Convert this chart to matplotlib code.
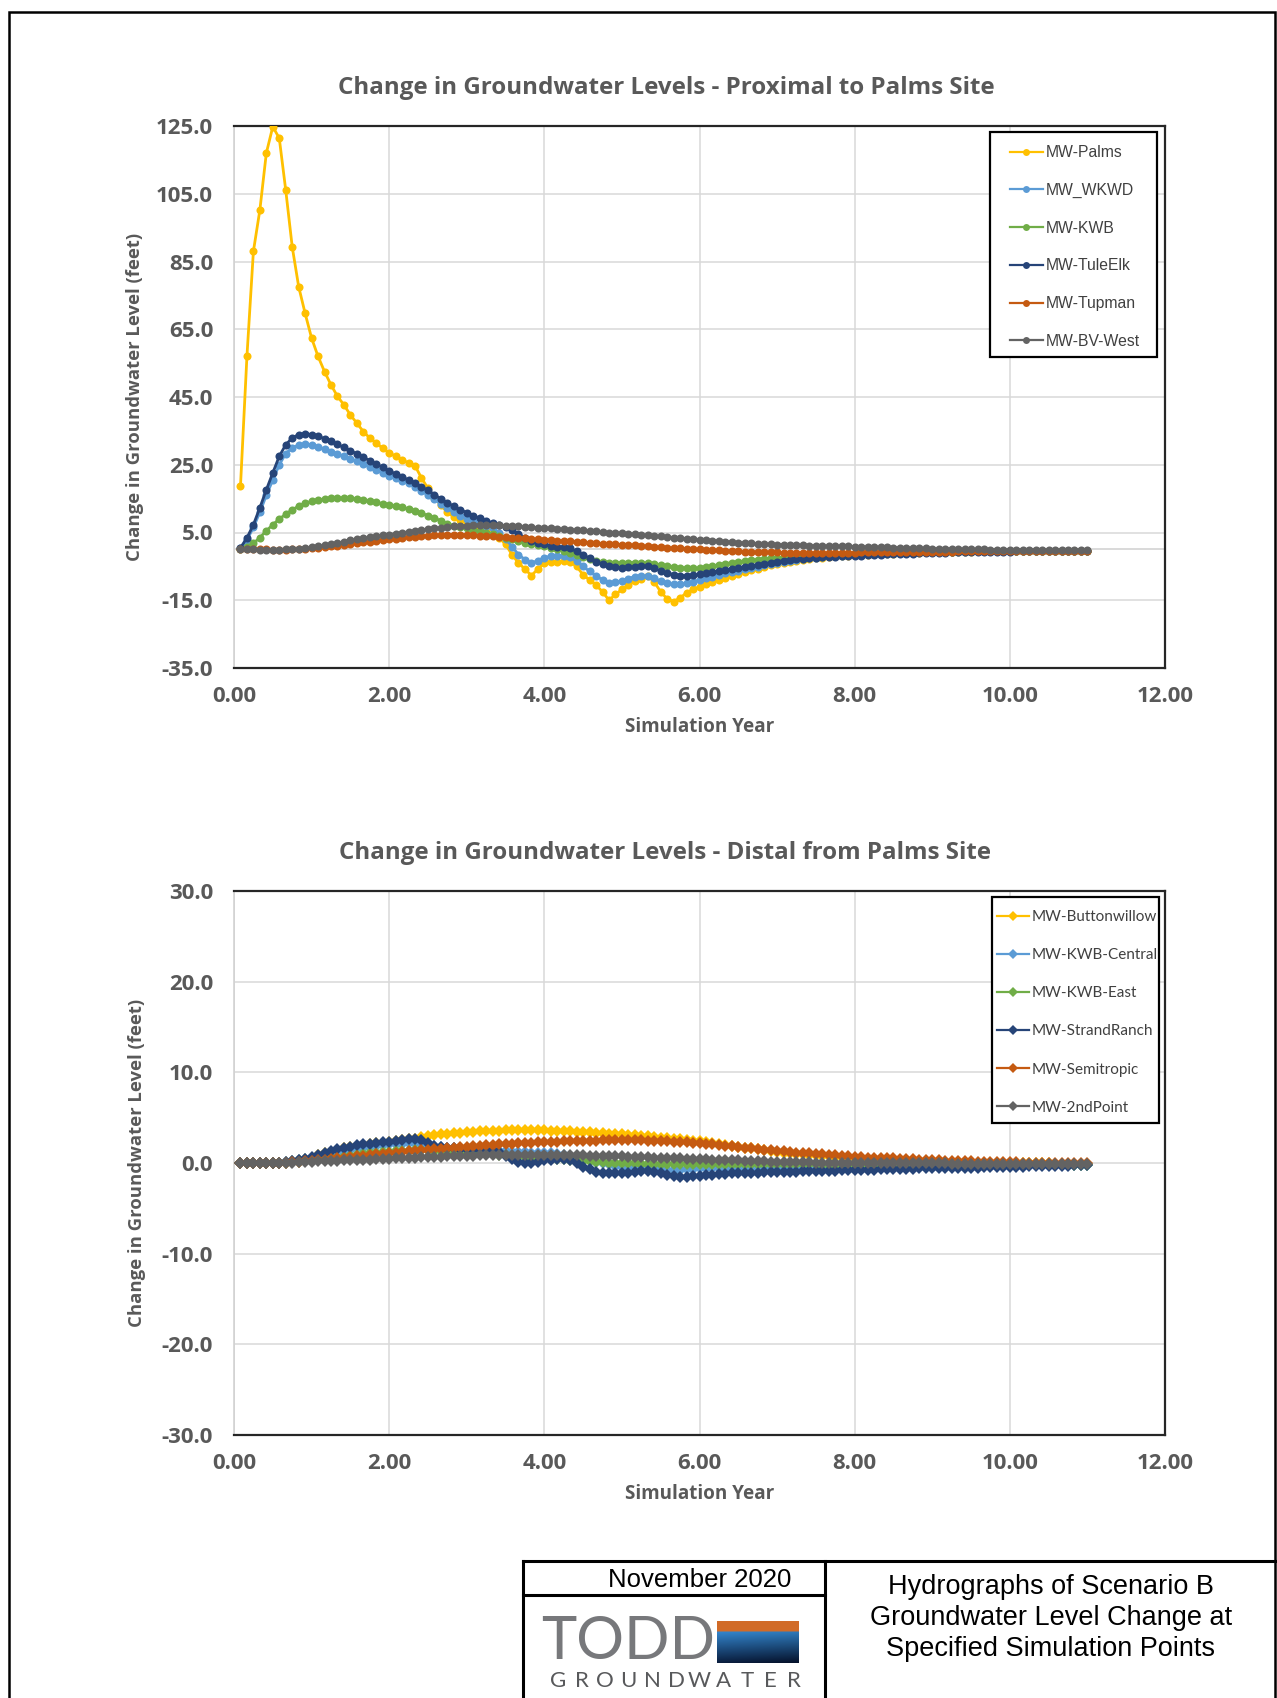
import numpy as np
import matplotlib.pyplot as plt
from matplotlib.patches import Rectangle
from matplotlib.lines import Line2D
from matplotlib.ticker import FormatStrFormatter

plt.rcParams['font.family'] = ['Open Sans', 'DejaVu Sans']

# --- Daten: monatliche Werte, Simulationsjahr 1/12 ... 11 ---
months = np.arange(1, 133)
years = months / 12

# Proximal to Palms Site
palms = [18.6, 57.0, 88.0, 100.2, 117.0, 124.8, 121.4, 106.1, 89.4, 77.6, 69.7, 62.4,
         57.0, 52.5, 48.6, 45.2, 42.7, 39.7, 37.3, 34.8, 32.9, 31.4, 29.9, 28.5,
         27.5, 26.5, 25.5, 24.7, 21.1, 18.0, 15.3, 13.0, 11.0, 9.6, 8.6, 7.8,
         7.0, 6.3, 5.6, 4.6, 3.5, 1.5, -1.5, -4.0, -5.8, -7.7, -5.8, -4.0,
         -3.8, -3.6, -3.5, -3.7, -5.0, -7.5, -9.0, -10.5, -12.5, -15.0, -13.3, -11.8,
         -10.5, -9.4, -8.6, -7.9, -9.6, -12.5, -14.6, -15.4, -14.3, -12.8, -11.8, -11.0,
         -10.2, -9.6, -9.0, -8.4, -7.9, -7.3, -6.8, -6.2, -5.7, -5.2, -4.7, -4.3,
         -3.9, -3.6, -3.3, -3.0, -2.8, -2.6, -2.4, -2.2, -2.0, -1.9, -1.8, -1.7,
         -1.6, -1.5, -1.4, -1.3, -1.25, -1.2, -1.1, -1.05, -1.0, -0.95, -0.9, -0.85,
         -0.8, -0.8, -0.75, -0.7, -0.7, -0.65, -0.6, -0.6, -0.55, -0.55, -0.5, -0.5,
         -0.5, -0.45, -0.45, -0.45, -0.4, -0.4, -0.4, -0.4, -0.35, -0.35, -0.35, -0.35]
wkwd = [0.3, 2.8, 6.5, 11.0, 16.0, 20.5, 25.0, 28.3, 30.0, 30.8, 31.0, 30.8,
        30.3, 29.6, 28.9, 28.2, 27.5, 26.8, 26.0, 25.2, 24.3, 23.4, 22.6, 21.7,
        21.0, 20.3, 19.5, 18.5, 17.3, 16.0, 14.8, 13.5, 12.2, 11.0, 10.0, 9.0,
        8.3, 7.6, 7.0, 6.2, 5.0, 3.2, 0.8, -1.5, -3.0, -4.0, -3.3, -2.4,
        -2.0, -1.8, -1.9, -2.3, -3.4, -5.0, -6.5, -7.8, -9.0, -9.8, -9.7, -9.3,
        -8.6, -8.0, -7.8, -7.9, -8.5, -9.4, -10.0, -10.3, -10.3, -10.0, -9.5, -9.0,
        -8.5, -8.0, -7.5, -7.1, -6.7, -6.3, -5.9, -5.5, -5.1, -4.7, -4.3, -4.0,
        -3.7, -3.4, -3.1, -2.9, -2.6, -2.4, -2.2, -2.0, -1.9, -1.8, -1.7, -1.6,
        -1.5, -1.4, -1.3, -1.25, -1.2, -1.1, -1.05, -1.0, -0.95, -0.9, -0.85, -0.8,
        -0.8, -0.75, -0.7, -0.7, -0.65, -0.6, -0.6, -0.55, -0.55, -0.5, -0.5, -0.5,
        -0.45, -0.45, -0.45, -0.4, -0.4, -0.4, -0.4, -0.35, -0.35, -0.35, -0.35, -0.35]
kwb = [0.1, 0.6, 1.8, 3.5, 5.5, 7.3, 9.0, 10.4, 11.7, 12.8, 13.6, 14.2,
       14.6, 14.9, 15.1, 15.2, 15.2, 15.1, 14.9, 14.6, 14.3, 13.9, 13.5, 13.1,
       12.8, 12.4, 12.0, 11.4, 10.7, 10.0, 9.2, 8.5, 7.6, 7.0, 6.6, 6.2,
       5.8, 5.4, 5.0, 4.5, 4.0, 3.5, 3.0, 2.5, 2.0, 1.5, 1.2, 0.9,
       0.5, 0.0, -0.5, -1.0, -1.5, -2.2, -2.9, -3.4, -3.8, -3.9, -3.9, -3.9,
       -3.9, -3.9, -4.0, -4.1, -4.3, -4.5, -4.8, -5.1, -5.4, -5.5, -5.6, -5.6,
       -5.3, -4.9, -4.5, -4.2, -3.9, -3.6, -3.4, -3.2, -3.0, -2.8, -2.6, -2.5,
       -2.3, -2.2, -2.0, -1.9, -1.8, -1.7, -1.6, -1.5, -1.45, -1.4, -1.35, -1.3,
       -1.2, -1.15, -1.1, -1.05, -1.0, -0.95, -0.9, -0.85, -0.8, -0.8, -0.75, -0.7,
       -0.7, -0.65, -0.65, -0.6, -0.6, -0.55, -0.55, -0.5, -0.5, -0.5, -0.45, -0.45,
       -0.45, -0.4, -0.4, -0.4, -0.4, -0.4, -0.35, -0.35, -0.35, -0.35, -0.35, -0.35]
tule_elk = [0.5, 3.4, 7.3, 12.3, 17.6, 22.6, 27.5, 30.9, 32.9, 33.9, 34.2, 33.9,
            33.4, 32.7, 31.9, 31.0, 30.1, 29.2, 28.2, 27.2, 26.2, 25.2, 24.2, 23.2,
            22.3, 21.4, 20.5, 19.6, 18.5, 17.4, 16.2, 14.9, 13.8, 12.7, 11.7, 10.9,
            10.0, 9.2, 8.5, 7.8, 7.1, 6.5, 5.6, 4.6, 3.5, 2.5, 1.9, 1.5,
            1.1, 0.8, 0.6, 0.3, -0.6, -1.6, -2.6, -3.6, -4.4, -5.0, -5.3, -5.4,
            -5.3, -5.1, -4.9, -5.0, -5.6, -6.3, -7.0, -7.4, -7.7, -7.8, -7.6, -7.3,
            -7.0, -6.7, -6.3, -6.0, -5.7, -5.4, -5.1, -4.8, -4.5, -4.2, -3.9, -3.6,
            -3.3, -3.1, -2.9, -2.7, -2.5, -2.4, -2.3, -2.2, -2.1, -2.0, -1.95, -1.9,
            -1.8, -1.7, -1.6, -1.5, -1.45, -1.4, -1.3, -1.25, -1.2, -1.15, -1.1, -1.05,
            -1.0, -0.95, -0.9, -0.85, -0.8, -0.8, -0.75, -0.75, -0.7, -0.7, -0.65, -0.65,
            -0.6, -0.6, -0.55, -0.55, -0.5, -0.5, -0.45, -0.45, -0.4, -0.4, -0.4, -0.4]
tupman = [0.0, 0.0, 0.0, 0.0, 0.0, -0.1, -0.1, -0.1, 0.0, 0.1, 0.2, 0.3,
          0.5, 0.7, 0.9, 1.1, 1.3, 1.6, 1.8, 2.1, 2.3, 2.6, 2.8, 3.0,
          3.2, 3.4, 3.6, 3.8, 4.0, 4.1, 4.2, 4.3, 4.4, 4.4, 4.4, 4.3,
          4.2, 4.1, 4.0, 3.9, 3.8, 3.7, 3.5, 3.4, 3.3, 3.1, 3.0, 2.9,
          2.8, 2.6, 2.5, 2.4, 2.3, 2.1, 2.0, 1.8, 1.7, 1.6, 1.5, 1.4,
          1.3, 1.2, 1.0, 0.9, 0.8, 0.6, 0.5, 0.4, 0.3, 0.2, 0.1, 0.0,
          -0.1, -0.2, -0.3, -0.4, -0.5, -0.6, -0.7, -0.75, -0.8, -0.85, -0.9, -0.9,
          -0.95, -0.95, -1.0, -1.0, -1.0, -1.0, -1.0, -1.0, -1.0, -1.0, -0.95, -0.95,
          -0.9, -0.9, -0.9, -0.85, -0.85, -0.8, -0.8, -0.8, -0.75, -0.75, -0.7, -0.7,
          -0.7, -0.65, -0.65, -0.6, -0.6, -0.6, -0.55, -0.55, -0.55, -0.5, -0.5, -0.5,
          -0.5, -0.45, -0.45, -0.45, -0.45, -0.4, -0.4, -0.4, -0.4, -0.4, -0.35, -0.35]
bv_west = [0.0, 0.0, 0.0, -0.1, -0.1, -0.1, -0.1, 0.0, 0.1, 0.2, 0.4, 0.6,
           0.9, 1.2, 1.5, 1.9, 2.3, 2.7, 3.0, 3.3, 3.6, 3.9, 4.2, 4.4,
           4.7, 4.9, 5.2, 5.5, 5.7, 6.0, 6.2, 6.4, 6.6, 6.8, 6.9, 7.0,
           7.1, 7.2, 7.2, 7.2, 7.1, 7.0, 6.9, 6.8, 6.6, 6.5, 6.4, 6.3,
           6.2, 6.1, 5.9, 5.8, 5.7, 5.6, 5.4, 5.3, 5.1, 5.0, 4.9, 4.8,
           4.6, 4.5, 4.3, 4.2, 4.0, 3.9, 3.7, 3.5, 3.4, 3.2, 3.1, 2.9,
           2.8, 2.6, 2.5, 2.3, 2.2, 2.0, 1.9, 1.8, 1.7, 1.6, 1.5, 1.4,
           1.35, 1.3, 1.25, 1.2, 1.1, 1.05, 1.0, 1.0, 0.95, 0.9, 0.9, 0.85,
           0.8, 0.75, 0.7, 0.65, 0.6, 0.55, 0.5, 0.45, 0.4, 0.35, 0.3, 0.25,
           0.2, 0.2, 0.15, 0.1, 0.1, 0.05, 0.0, 0.0, -0.05, -0.05, -0.1, -0.1,
           -0.15, -0.15, -0.2, -0.2, -0.2, -0.25, -0.25, -0.25, -0.3, -0.3, -0.3, -0.3]

# Distal from Palms Site
buttonwillow = [0.0, 0.0, 0.0, 0.0, 0.0, 0.0, 0.05, 0.1, 0.2, 0.3, 0.45, 0.6,
                0.85, 1.05, 1.25, 1.45, 1.6, 1.75, 1.9, 2.0, 2.1, 2.2, 2.25, 2.3,
                2.4, 2.5, 2.6, 2.7, 2.85, 3.0, 3.1, 3.15, 3.2, 3.3, 3.35, 3.4,
                3.45, 3.5, 3.5, 3.55, 3.55, 3.6, 3.6, 3.6, 3.6, 3.6, 3.6, 3.6,
                3.55, 3.55, 3.5, 3.5, 3.45, 3.45, 3.4, 3.35, 3.3, 3.25, 3.2, 3.15,
                3.1, 3.05, 3.0, 2.95, 2.9, 2.8, 2.75, 2.7, 2.6, 2.5, 2.45, 2.4,
                2.3, 2.2, 2.1, 2.0, 1.9, 1.8, 1.7, 1.6, 1.5, 1.4, 1.3, 1.2,
                1.1, 1.05, 1.0, 0.95, 0.9, 0.85, 0.8, 0.75, 0.7, 0.65, 0.6, 0.55,
                0.5, 0.45, 0.45, 0.4, 0.35, 0.35, 0.3, 0.3, 0.25, 0.25, 0.2, 0.2,
                0.15, 0.15, 0.1, 0.1, 0.1, 0.05, 0.05, 0.05, 0.0, 0.0, 0.0, 0.0,
                0.0, -0.05, -0.05, -0.05, -0.05, -0.05, -0.1, -0.1, -0.1, -0.1, -0.1, -0.1]
kwb_central = [0.0, 0.0, 0.0, 0.0, 0.0, 0.0, 0.05, 0.1, 0.2, 0.3, 0.4, 0.55,
               0.7, 0.85, 1.0, 1.15, 1.3, 1.45, 1.6, 1.7, 1.8, 1.9, 2.0, 2.05,
               2.1, 2.15, 2.2, 2.2, 2.1, 2.0, 1.9, 1.8, 1.7, 1.65, 1.6, 1.55,
               1.5, 1.5, 1.45, 1.4, 1.35, 1.3, 1.25, 1.2, 1.2, 1.15, 1.1, 1.1,
               1.05, 1.0, 0.9, 0.75, 0.6, 0.45, 0.3, 0.15, 0.0, -0.15, -0.3, -0.4,
               -0.4, -0.4, -0.45, -0.5, -0.6, -0.75, -0.8, -0.8, -0.75, -0.7, -0.65, -0.6,
               -0.6, -0.55, -0.55, -0.55, -0.5, -0.5, -0.5, -0.5, -0.45, -0.45, -0.45, -0.45,
               -0.45, -0.45, -0.4, -0.4, -0.4, -0.4, -0.4, -0.4, -0.4, -0.35, -0.35, -0.35,
               -0.35, -0.35, -0.35, -0.35, -0.3, -0.3, -0.3, -0.3, -0.3, -0.3, -0.3, -0.3,
               -0.3, -0.3, -0.3, -0.25, -0.25, -0.25, -0.25, -0.25, -0.25, -0.25, -0.2, -0.2,
               -0.2, -0.2, -0.2, -0.2, -0.2, -0.2, -0.2, -0.2, -0.2, -0.2, -0.2, -0.2]
kwb_east = [0.0, 0.0, 0.0, 0.0, 0.0, 0.0, 0.0, 0.05, 0.1, 0.15, 0.2, 0.3,
            0.35, 0.45, 0.5, 0.6, 0.7, 0.8, 0.9, 1.0, 1.05, 1.1, 1.2, 1.25,
            1.3, 1.35, 1.35, 1.4, 1.4, 1.4, 1.35, 1.3, 1.3, 1.25, 1.2, 1.15,
            1.1, 1.05, 1.0, 0.95, 0.9, 0.85, 0.8, 0.75, 0.7, 0.65, 0.6, 0.55,
            0.5, 0.45, 0.4, 0.35, 0.3, 0.25, 0.2, 0.15, 0.1, 0.05, 0.0, 0.0,
            -0.05, -0.05, -0.1, -0.1, -0.1, -0.15, -0.15, -0.15, -0.15, -0.15, -0.15, -0.15,
            -0.15, -0.15, -0.15, -0.15, -0.15, -0.15, -0.15, -0.15, -0.15, -0.15, -0.15, -0.15,
            -0.15, -0.15, -0.15, -0.15, -0.15, -0.15, -0.2, -0.2, -0.2, -0.2, -0.2, -0.2,
            -0.2, -0.2, -0.2, -0.2, -0.2, -0.2, -0.2, -0.2, -0.2, -0.2, -0.2, -0.2,
            -0.2, -0.2, -0.2, -0.2, -0.2, -0.2, -0.2, -0.2, -0.2, -0.2, -0.2, -0.2,
            -0.2, -0.2, -0.2, -0.2, -0.2, -0.2, -0.2, -0.2, -0.2, -0.2, -0.2, -0.2]
strand_ranch = [0.0, 0.0, 0.0, 0.0, 0.0, 0.0, 0.05, 0.1, 0.2, 0.3, 0.45, 0.65,
                0.9, 1.1, 1.3, 1.5, 1.65, 1.8, 1.95, 2.05, 2.15, 2.25, 2.3, 2.35,
                2.45, 2.55, 2.65, 2.7, 2.5, 2.2, 1.9, 1.75, 1.65, 1.6, 1.55, 1.5,
                1.5, 1.45, 1.4, 1.4, 1.2, 0.8, 0.4, 0.15, 0.0, -0.05, 0.1, 0.3,
                0.35, 0.4, 0.4, 0.35, 0.0, -0.4, -0.7, -1.0, -1.05, -1.1, -1.1, -1.1,
                -1.05, -1.0, -0.9, -0.85, -0.95, -1.1, -1.3, -1.45, -1.5, -1.5, -1.45, -1.4,
                -1.35, -1.3, -1.25, -1.2, -1.15, -1.1, -1.1, -1.05, -1.05, -1.0, -1.0, -1.0,
                -0.95, -0.95, -0.95, -0.9, -0.9, -0.9, -0.85, -0.85, -0.85, -0.8, -0.8, -0.8,
                -0.75, -0.75, -0.75, -0.7, -0.7, -0.7, -0.65, -0.65, -0.65, -0.6, -0.6, -0.6,
                -0.6, -0.55, -0.55, -0.55, -0.5, -0.5, -0.5, -0.45, -0.45, -0.45, -0.4, -0.4,
                -0.4, -0.4, -0.35, -0.35, -0.35, -0.3, -0.3, -0.3, -0.3, -0.25, -0.25, -0.25]
semitropic = [0.0, 0.0, 0.0, 0.0, 0.0, 0.0, 0.02, 0.05, 0.1, 0.15, 0.2, 0.25,
              0.3, 0.35, 0.45, 0.5, 0.6, 0.65, 0.75, 0.8, 0.9, 0.95, 1.0, 1.1,
              1.15, 1.2, 1.3, 1.35, 1.4, 1.45, 1.5, 1.55, 1.6, 1.7, 1.75, 1.8,
              1.85, 1.9, 1.95, 2.0, 2.05, 2.1, 2.15, 2.2, 2.2, 2.25, 2.3, 2.3,
              2.35, 2.35, 2.4, 2.4, 2.4, 2.45, 2.45, 2.45, 2.5, 2.5, 2.5, 2.5,
              2.5, 2.5, 2.5, 2.45, 2.45, 2.4, 2.4, 2.35, 2.3, 2.3, 2.25, 2.2,
              2.15, 2.05, 2.0, 1.9, 1.85, 1.75, 1.7, 1.6, 1.55, 1.45, 1.4, 1.35,
              1.3, 1.2, 1.15, 1.1, 1.05, 1.0, 0.95, 0.9, 0.85, 0.8, 0.75, 0.7,
              0.65, 0.6, 0.6, 0.55, 0.5, 0.5, 0.45, 0.4, 0.4, 0.35, 0.35, 0.3,
              0.3, 0.25, 0.25, 0.2, 0.2, 0.2, 0.15, 0.15, 0.15, 0.1, 0.1, 0.1,
              0.1, 0.05, 0.05, 0.05, 0.05, 0.0, 0.0, 0.0, 0.0, 0.0, 0.0, 0.0]
second_point = [0.0, 0.0, 0.0, 0.0, 0.0, 0.0, 0.0, 0.02, 0.05, 0.08, 0.1, 0.15,
                0.18, 0.2, 0.22, 0.25, 0.28, 0.3, 0.32, 0.35, 0.37, 0.4, 0.42, 0.45,
                0.5, 0.52, 0.55, 0.6, 0.62, 0.65, 0.68, 0.7, 0.72, 0.75, 0.78, 0.8,
                0.82, 0.85, 0.87, 0.88, 0.9, 0.9, 0.9, 0.9, 0.9, 0.9, 0.9, 0.9,
                0.9, 0.88, 0.87, 0.85, 0.85, 0.83, 0.82, 0.8, 0.78, 0.76, 0.74, 0.72,
                0.7, 0.68, 0.65, 0.62, 0.6, 0.58, 0.55, 0.52, 0.5, 0.48, 0.45, 0.42,
                0.4, 0.37, 0.35, 0.32, 0.3, 0.28, 0.25, 0.23, 0.2, 0.18, 0.16, 0.14,
                0.12, 0.1, 0.09, 0.08, 0.06, 0.05, 0.04, 0.03, 0.02, 0.01, 0.0, 0.0,
                -0.01, -0.01, -0.02, -0.02, -0.03, -0.03, -0.03, -0.04, -0.04, -0.04, -0.05, -0.05,
                -0.05, -0.05, -0.06, -0.06, -0.06, -0.06, -0.07, -0.07, -0.07, -0.07, -0.08, -0.08,
                -0.08, -0.08, -0.08, -0.09, -0.09, -0.09, -0.09, -0.1, -0.1, -0.1, -0.1, -0.1]

colors = ['#FFC000', '#5B9BD5', '#70AD47', '#264478', '#C55A11', '#636363']
top_series = [('MW-Palms', palms), ('MW_WKWD', wkwd), ('MW-KWB', kwb),
              ('MW-TuleElk', tule_elk), ('MW-Tupman', tupman), ('MW-BV-West', bv_west)]
bot_series = [('MW-Buttonwillow', buttonwillow), ('MW-KWB-Central', kwb_central),
              ('MW-KWB-East', kwb_east), ('MW-StrandRanch', strand_ranch),
              ('MW-Semitropic', semitropic), ('MW-2ndPoint', second_point)]

W, H = 1277, 1698
GREY = '#595959'


def box(x0, y0, x1, y1):
    # Pixelbox (oben links = 0,0) -> Figurenkoordinaten
    return [x0 / W, 1 - y1 / H, (x1 - x0) / W, (y1 - y0) / H]


fig = plt.figure(figsize=(W / 100, H / 100), dpi=100)


def setup_axes(rect, ylim, yticks):
    ax = fig.add_axes(rect)
    ax.set_xlim(0, 12)
    ax.set_ylim(*ylim)
    ax.set_xticks(np.arange(0, 13, 2))
    ax.set_yticks(yticks)
    ax.xaxis.set_major_formatter(FormatStrFormatter('%.2f'))
    ax.yaxis.set_major_formatter(FormatStrFormatter('%.1f'))
    ax.grid(True, color='#D9D9D9', lw=1.1)
    ax.set_axisbelow(True)
    ax.tick_params(axis='y', length=0, labelsize=16, labelcolor=GREY, pad=15)
    ax.tick_params(axis='x', length=0, labelsize=16, labelcolor=GREY, pad=13)
    for lab in ax.get_xticklabels() + ax.get_yticklabels():
        lab.set_fontweight('bold')
    for side in ['top', 'right', 'bottom']:
        ax.spines[side].set_color('#262626')
        ax.spines[side].set_linewidth(1.6)
    ax.spines['left'].set_color('#D0D0D0')
    ax.spines['left'].set_linewidth(1.1)
    ax.set_xlabel('Simulation Year', fontsize=13.6, fontweight='bold', color=GREY, va='center')
    ax.set_ylabel('Change in Groundwater Level (feet)', fontsize=13.3, fontweight='bold',
                  color=GREY, va='center')
    return ax


def add_legend(ax, handles, frame_px, anchor_px, font, spacing):
    # Rahmen wie im Excel-Diagramm
    x0, y0, x1, y1 = frame_px
    fr = Rectangle((x0 / W, 1 - y1 / H), (x1 - x0) / W, (y1 - y0) / H, transform=fig.transFigure,
                   facecolor='white', edgecolor='black', lw=1.6, zorder=4)
    ax.add_patch(fr)
    fr.set_clip_on(False)
    leg = ax.legend(handles=handles, loc='upper left',
                    bbox_to_anchor=(anchor_px[0] / W, 1 - anchor_px[1] / H),
                    bbox_transform=fig.transFigure, frameon=False, borderpad=0,
                    borderaxespad=0, handlelength=2.1, handletextpad=0.15,
                    labelspacing=spacing, prop=font)
    leg.set_zorder(5)
    for t in leg.get_texts():
        t.set_color('#404040')
    for h in leg.legend_handles:
        h.set_markersize(5)
        h.set_linewidth(1.6)
    return leg


# --- Oberes Diagramm ---
ax1 = setup_axes(box(234, 126, 1165, 668), (-35, 125), np.arange(-35, 126, 20))
ax1.axhline(0, color='#D0D0D0', lw=1.1, zorder=1)
h1 = []
for (name, vals), c in zip(top_series, colors):
    ln, = ax1.plot(years, vals, color=c, lw=2.0, marker='o', markersize=5.8,
                   markeredgewidth=0, label=name, zorder=3)
    h1.append(ln)
ax1.xaxis.set_label_coords(0.5, -59 / 542)
ax1.yaxis.set_label_coords(-99 / 931, 0.5)
fig.text(666 / W, 1 - 88 / H, 'Change in Groundwater Levels - Proximal to Palms Site',
         ha='center', va='center', fontsize=17.4, fontweight='bold', color=GREY)
add_legend(ax1, h1, (990, 132, 1157, 357), (1010, 145),
           {'family': 'Liberation Sans', 'size': 11.3}, 1.45)

# --- Unteres Diagramm ---
ax2 = setup_axes(box(234, 891, 1165, 1435), (-30, 30), np.arange(-30, 31, 10))
h2 = []
for (name, vals), c in zip(bot_series, colors):
    ln, = ax2.plot(years, vals, color=c, lw=2.4, marker='D', markersize=6.4,
                   markeredgewidth=0, label=name, zorder=3)
    h2.append(ln)
ax2.xaxis.set_label_coords(0.5, -59 / 544)
ax2.yaxis.set_label_coords(-97 / 931, 0.5)
fig.text(665 / W, 1 - 853 / H, 'Change in Groundwater Levels - Distal from Palms Site',
         ha='center', va='center', fontsize=17.4, fontweight='bold', color=GREY)
add_legend(ax2, h2, (992, 897, 1159, 1123), (997, 910), {'family': 'Lato', 'size': 11}, 1.58)

# --- Seitenrahmen und Schriftfeld ---
fig.patches.append(Rectangle((9 / W, -0.01), (1275 - 9) / W, 1 - 12 / H + 0.01,
                             transform=fig.transFigure, fill=False, edgecolor='black', lw=1.8))


def hline(x0, x1, y, lw=2.2):
    fig.add_artist(Line2D([x0 / W, x1 / W], [1 - y / H, 1 - y / H], color='black', lw=lw))


def vline(x, y0, y1, lw=2.2):
    fig.add_artist(Line2D([x / W, x / W], [1 - y0 / H, 1 - y1 / H], color='black', lw=lw))


hline(523, 1277, 1561)
hline(523, 825, 1595)
vline(523, 1561, 1700)
vline(825, 1561, 1700)

blk = ['Liberation Sans', 'DejaVu Sans']
fig.text(700 / W, 1 - 1580 / H, 'November 2020', ha='center', va='center',
         fontsize=18.5, family=blk, color='black')
for i, line in enumerate(['Hydrographs of Scenario B', 'Groundwater Level Change at',
                          'Specified Simulation Points']):
    fig.text(1051 / W, 1 - (1587 + 31 * i) / H, line, ha='center', va='center',
             fontsize=19.5, family=blk, color='black')

# Logo
fig.text(628 / W, 1 - 1642 / H, 'TODD', ha='center', va='center', fontsize=43,
         family=['Lato', 'DejaVu Sans'], fontweight='normal', color='#77787B')
for i, ch in enumerate('GROUNDWATER'):
    fig.text((558 + i * 23.6) / W, 1 - 1681 / H, ch, ha='center', va='center',
             fontsize=16, family=['Lato', 'DejaVu Sans'], color='#58595B')
lax = fig.add_axes(box(717, 1621, 799, 1663))
lax.axis('off')
grad = np.zeros((40, 80, 3))
t = np.linspace(0, 1, 30)[:, None]
s = np.linspace(0, 1, 80)[None, :]
grad[:10] = np.array([0.82, 0.42, 0.16])
grad[10:, :, 0] = 0.20 - 0.16 * t - 0.02 * s
grad[10:, :, 1] = 0.52 - 0.40 * t - 0.05 * s
grad[10:, :, 2] = 0.80 - 0.55 * t - 0.08 * s
lax.imshow(np.clip(grad, 0, 1), aspect='auto', interpolation='bilinear')

fig.savefig('out.png', dpi=100)
